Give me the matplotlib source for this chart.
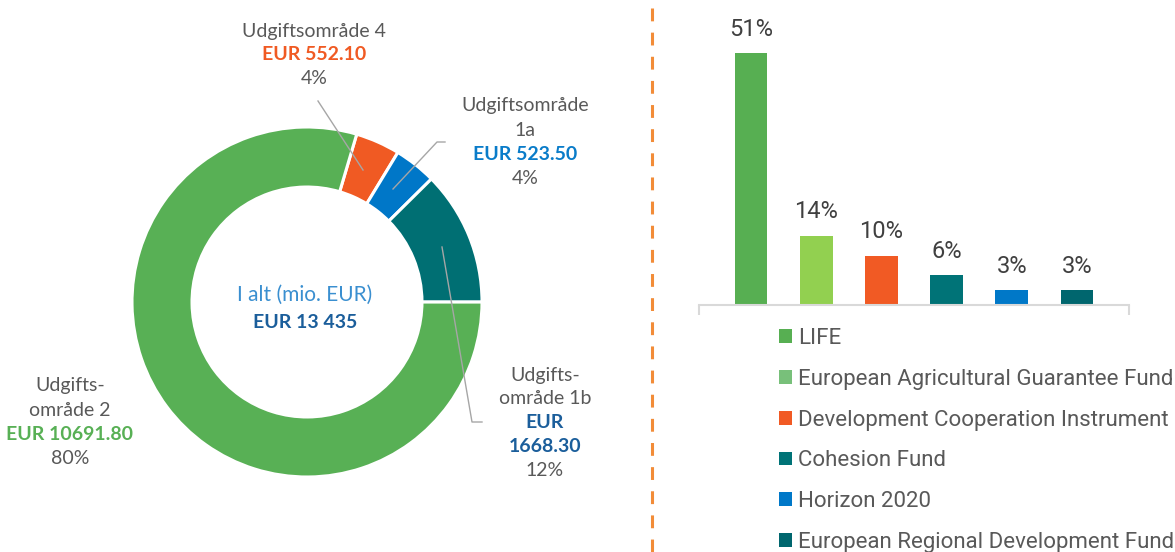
import matplotlib.pyplot as plt
from matplotlib.patches import Patch

"""
Data
"""
# donut: clockwise from the top-right, as in the picture
areas_lines = [['Udgiftsområde 4'], ['Udgiftsområde', '1a'], ['Udgifts-', 'område 1b'], ['Udgifts-', 'område 2']]
amounts = [552.10, 523.50, 1668.30, 10691.80]
area_pcts = [4, 4, 12, 80]
total_label = 'EUR 13 435'

# bar chart
funds = ['LIFE', 'European Agricultural Guarantee Fund', 'Development Cooperation Instrument',
         'Cohesion Fund', 'Horizon 2020', 'European Regional Development Fund']
shares = [51, 14, 10, 6, 3, 3]

"""
Styles
"""
pie_colors = ['#F05A23', '#0077C8', '#006F73', '#58B055']
amount_colors = ['#F05A23', '#0A7CC9', '#1B5E9B', '#58B055']
bar_colors = ['#57AF52', '#92D050', '#F15A24', '#007377', '#0078C8', '#00666E']
legend_colors = ['#57AF52', '#78C07A', '#F15A24', '#007377', '#0078C8', '#00666E']
gray = '#595959'
W, H = 1175, 552

fig = plt.figure(figsize=(W / 100, H / 100), dpi=100)

"""
Donut
"""
cx, cy, R = 307, 302, 175
half = 200
ax_pie = fig.add_axes([(cx - half) / W, (H - cy - half) / H, 2 * half / W, 2 * half / H])
ax_pie.pie(amounts, colors=pie_colors, radius=1, startangle=73.5, counterclock=False,
           wedgeprops=dict(width=0.343, edgecolor='white', linewidth=2.2))
ax_pie.set_xlim(-half / R, half / R)
ax_pie.set_ylim(-half / R, half / R)
ax_pie.axis('off')

"""
Bars
"""
ax_bar = fig.add_axes([699 / W, (H - 305) / H, 430 / W, 305 / H])
x = range(len(funds))
bars = ax_bar.bar(x, shares, width=0.5, color=bar_colors)
ax_bar.bar_label(bars, labels=['%d%%' % s for s in shares], padding=9,
                 fontsize=17, color='#404040', family='Roboto')
ax_bar.set_xlim(-0.8, 5.8)
ax_bar.set_ylim(0, 305 / (252 / 51))
for side in ['top', 'right', 'left']:
    ax_bar.spines[side].set_visible(False)
ax_bar.spines['bottom'].set_color('#D9D9D9')
ax_bar.spines['bottom'].set_linewidth(1.5)
ax_bar.set_yticks([])
ax_bar.set_xticks([-0.8, 5.8])
ax_bar.set_xticklabels(['', ''])
ax_bar.tick_params(axis='x', length=7, width=1.5, color='#D9D9D9')
ax_bar.patch.set_alpha(0)

handles = [Patch(facecolor=c, edgecolor='none') for c in legend_colors]
fig.legend(handles, funds, loc='upper left', bbox_to_anchor=(779 / W, 1 - 328 / H),
           frameon=False, borderpad=0, borderaxespad=0, handlelength=0.58, handleheight=0.58,
           handletextpad=0.28, labelspacing=0.89, prop=dict(family='Roboto', size=16),
           labelcolor=gray)

"""
Overlay for labels, leader lines and the divider (pixel coords)
"""
ov = fig.add_axes([0, 0, 1, 1])
ov.set_xlim(0, W)
ov.set_ylim(H, 0)
ov.axis('off')
ov.patch.set_alpha(0)

# dashed divider
ov.plot([652, 652], [8, H], color='#F28C38', lw=2.2, dashes=(4.2, 3.7))

# leader lines
lc = '#A6A6A6'
ov.plot([318, 363], [101, 170], color=lc, lw=1)
ov.plot([445, 437, 393], [142, 142, 189], color=lc, lw=1)
ov.plot([482, 472, 442], [422, 422, 247], color=lc, lw=1)

font = 'Lato'
fs = 14
lab_x = [314, 525, 545, 70]
lab_y0 = [31, 106, 375, 386]
step = 24
for i in range(len(amounts)):
    lines = [(t, gray, 'normal') for t in areas_lines[i]]
    amt = 'EUR %.2f' % amounts[i]
    if i == 2:
        lines += [('EUR', amount_colors[i], 'bold'), ('%.2f' % amounts[i], amount_colors[i], 'bold')]
    else:
        lines += [(amt, amount_colors[i], 'bold')]
    lines += [('%d%%' % area_pcts[i], gray, 'normal')]
    for k, (t, c, w) in enumerate(lines):
        ov.text(lab_x[i], lab_y0[i] + k * step, t, color=c, fontweight=w, fontsize=fs,
                family=font, ha='center', va='center')

# centre text
ov.text(305, 295, 'I alt (mio. EUR)', color='#3A8FD0', fontsize=fs + 1, family=font,
        ha='center', va='center')
ov.text(305, 322, total_label, color='#1B5E9B', fontsize=fs, family=font, fontweight='bold',
        ha='center', va='center')

fig.savefig('out.png', dpi=100)
